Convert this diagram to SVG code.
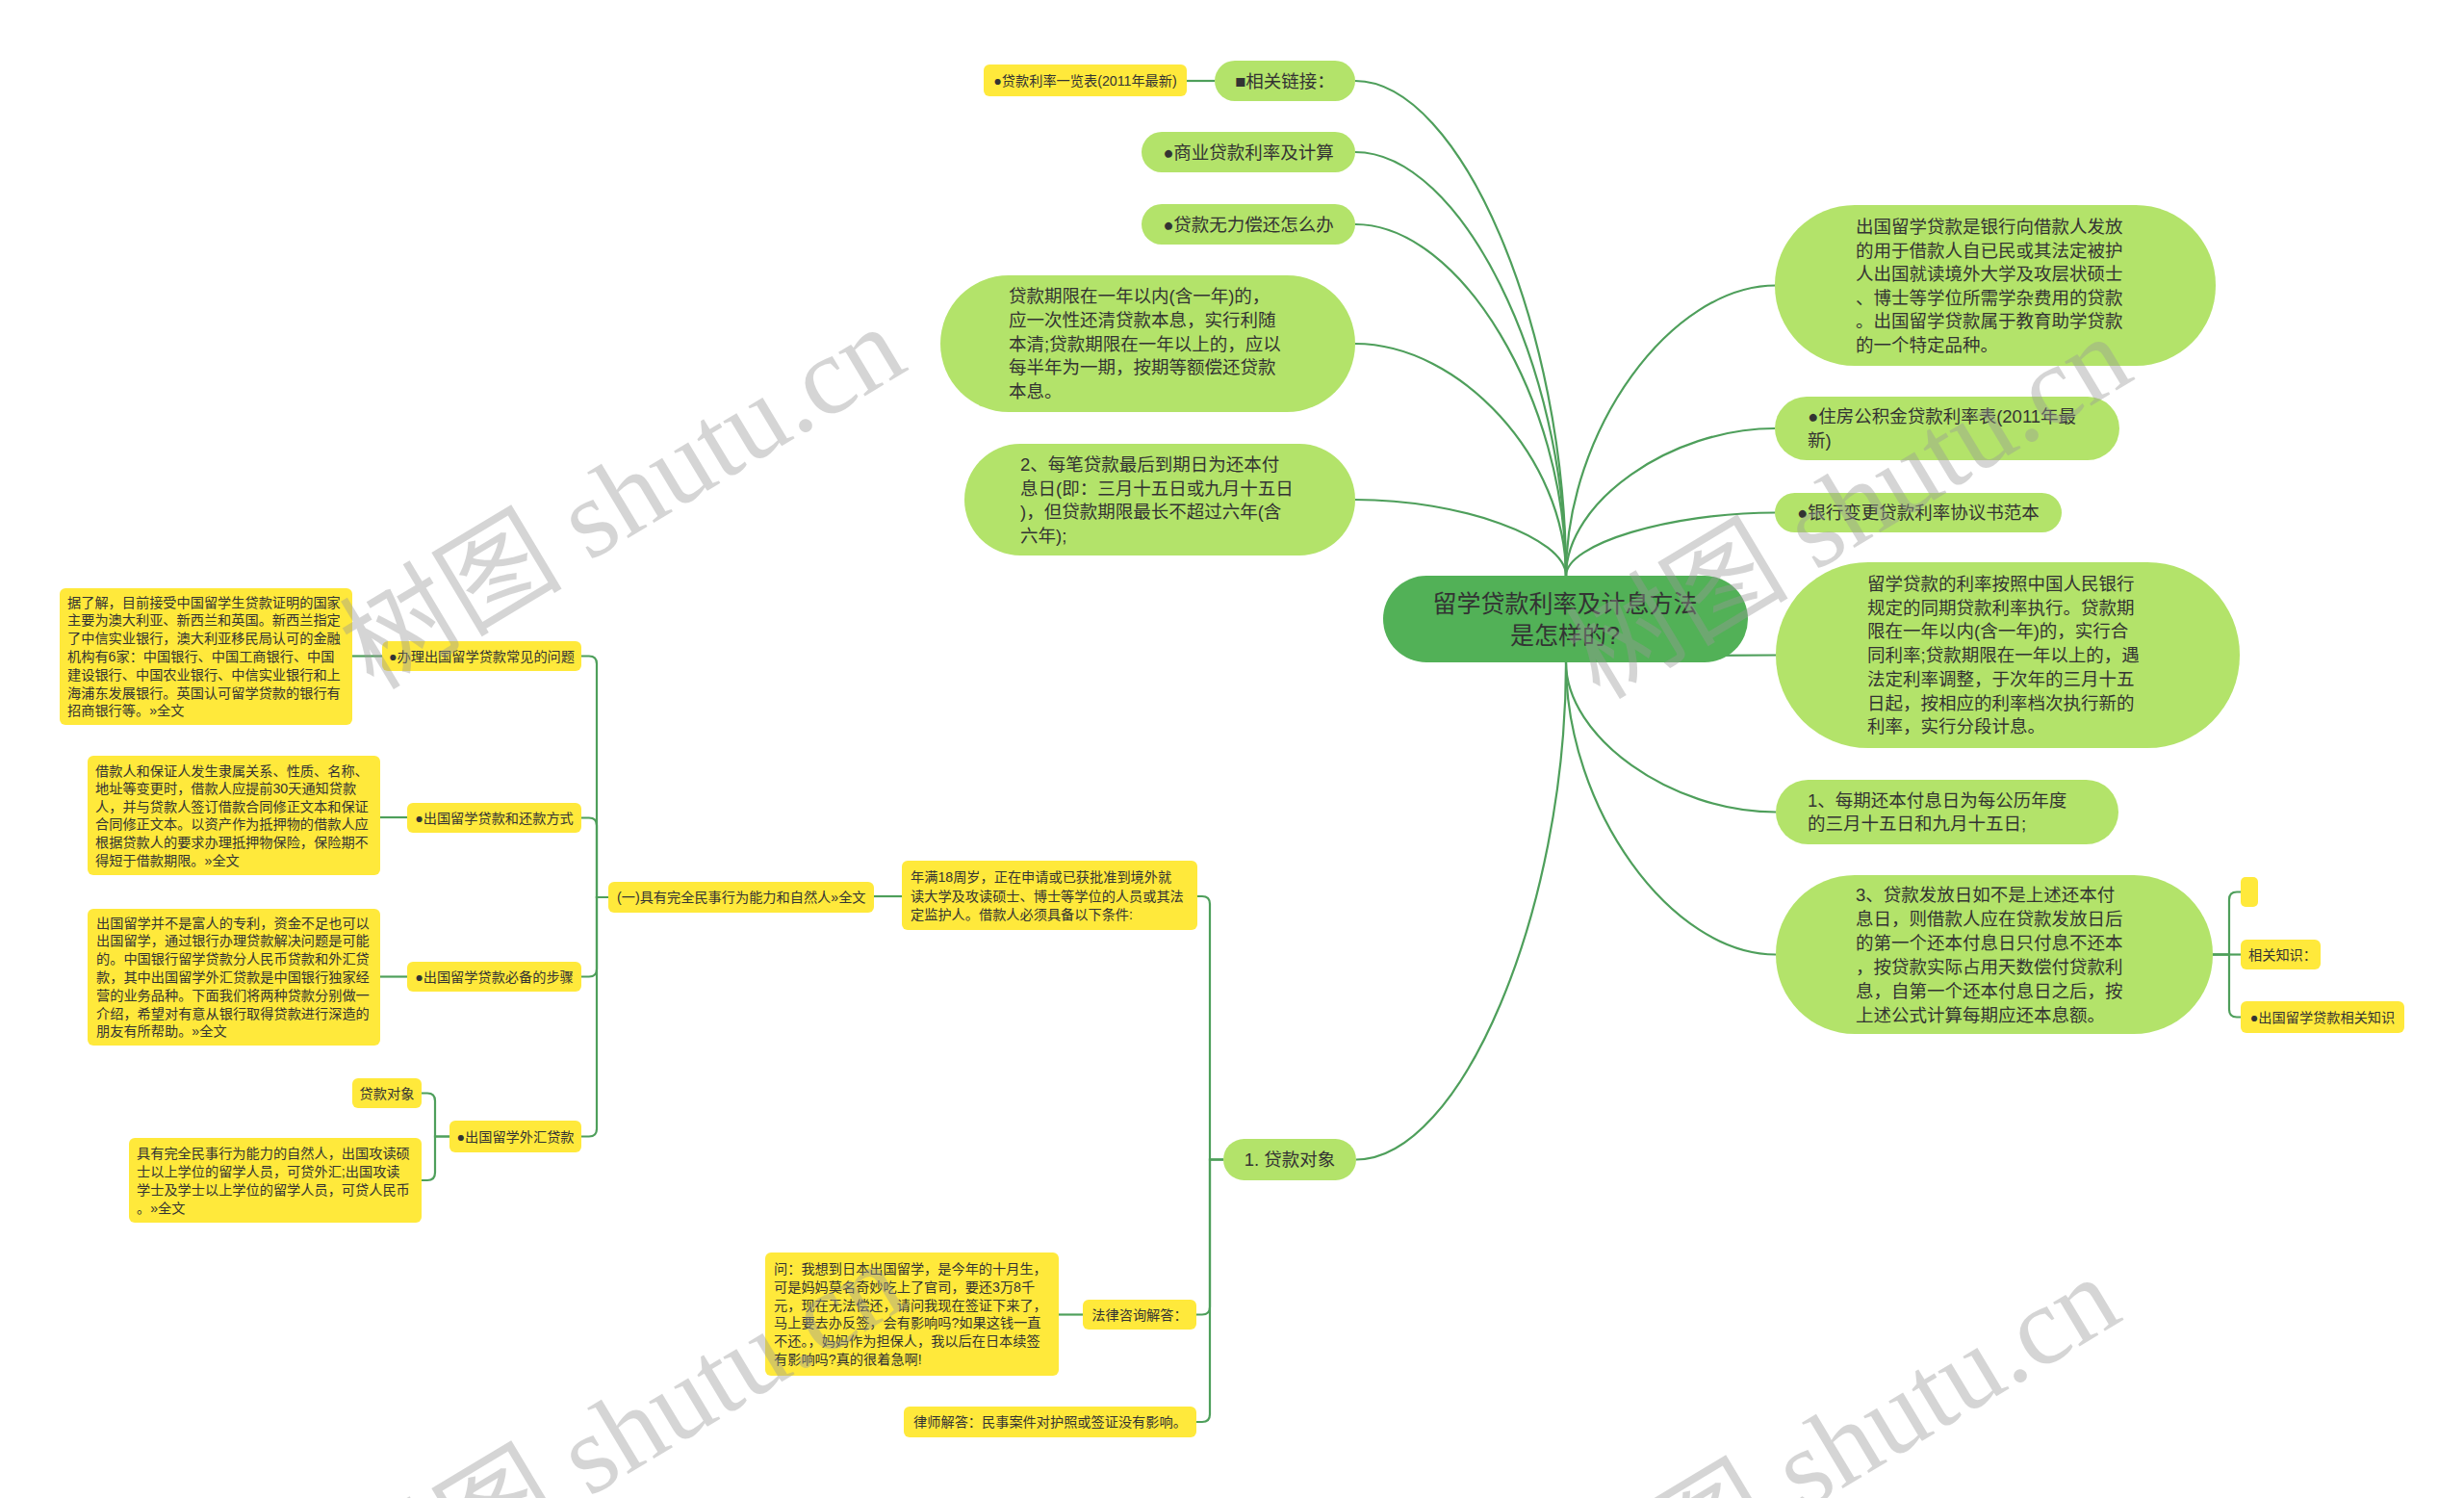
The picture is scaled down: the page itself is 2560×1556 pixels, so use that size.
<svg xmlns="http://www.w3.org/2000/svg" width="2560" height="1556" viewBox="0 0 2560 1556">
<style>
.c{fill:none;stroke:#4e9f5b;stroke-width:2.2}
.g{fill:#b3e36a}
.y{fill:#ffe93b}
.m{fill:#52b157}
.t{font-family:"Liberation Sans","Noto Sans CJK SC",sans-serif;fill:#333}
.b{font-size:18.5px}
.s{font-size:14.2px}
.mid{text-anchor:middle}
.wm{font-family:"Liberation Serif","Noto Sans CJK SC",serif;font-size:116px;fill:#999;opacity:0.4}
</style>
<rect width="2560" height="1556" fill="#ffffff"/>
<g id="connectors">
<path class="c" d="M1408,84 C1517.5,84 1627,341 1627,598"/>
<path class="c" d="M1408,158 C1517.5,158 1627,378 1627,598"/>
<path class="c" d="M1408,233 C1517.5,233 1627,415.5 1627,598"/>
<path class="c" d="M1408,357 C1517.5,357 1627,477.5 1627,598"/>
<path class="c" d="M1408,519 C1517.5,519 1627,558.5 1627,598"/>
<path class="c" d="M1233,84 H1262"/>
<path class="c" d="M1845,296.5 C1736,296.5 1627,447 1627,598"/>
<path class="c" d="M1844,445 C1735.5,445 1627,521.5 1627,598"/>
<path class="c" d="M1844,532.5 C1735.5,532.5 1627,565 1627,598"/>
<path class="c" d="M1845,680.5 C1736,680.5 1627,684 1627,688"/>
<path class="c" d="M1845,843.5 C1736,843.5 1627,765.75 1627,688"/>
<path class="c" d="M1845,991.5 C1736,991.5 1627,839.75 1627,688"/>
<path class="c" d="M1409,1204.5 C1518,1204.5 1627,946 1627,688"/>
<path class="c" d="M2299,991.5 H2316 V934.5 Q2316,926.5 2324,926.5 H2328"/>
<path class="c" d="M2299,991.5 H2328"/>
<path class="c" d="M2299,991.5 H2316 V1048.5 Q2316,1056.5 2324,1056.5 H2328"/>
<path class="c" d="M1271,1204.5 H1257 V939 Q1257,931 1249,931 H1244"/>
<path class="c" d="M1271,1204.5 H1257 V1357.5 Q1257,1365.5 1249,1365.5 H1243"/>
<path class="c" d="M1271,1204.5 H1257 V1469 Q1257,1477 1249,1477 H1243"/>
<path class="c" d="M937,931 H908"/>
<path class="c" d="M632,932 H620 V689.5 Q620,681.5 612,681.5 H604"/>
<path class="c" d="M632,932 H620 V857.5 Q620,849.5 612,849.5 H604"/>
<path class="c" d="M632,932 H620 V1006.5 Q620,1014.5 612,1014.5 H604"/>
<path class="c" d="M632,932 H620 V1172.5 Q620,1180.5 612,1180.5 H604"/>
<path class="c" d="M397,681.5 H366"/>
<path class="c" d="M423,849 H395"/>
<path class="c" d="M423,1014.5 H395"/>
<path class="c" d="M467,1180.5 H452 V1143.5 Q452,1135.5 444,1135.5 H438"/>
<path class="c" d="M467,1180.5 H452 V1218 Q452,1226 444,1226 H438"/>
<path class="c" d="M1125,1365.5 H1100"/>
</g>
<g id="center">
<rect class="m" x="1437" y="598" width="379" height="90" rx="45"/>
<text class="t mid" font-size="25" x="1626" y="636">留学贷款利率及计息方法</text>
<text class="t mid" font-size="25" x="1626" y="669">是怎样的?</text>
</g>
<g id="n-links">
<rect class="g" x="1262" y="63" width="146" height="42" rx="21"/>
<text class="t b mid" x="1335" y="90.5">■相关链接：</text>
</g>
<g id="n-rate-table">
<rect class="y" x="1022" y="67" width="211" height="33" rx="6"/>
<text class="t s mid" x="1127.5" y="89">●贷款利率一览表(2011年最新)</text>
</g>
<g id="n-commercial">
<rect class="g" x="1186" y="137" width="222" height="42" rx="21"/>
<text class="t b mid" x="1297" y="164.5">●商业贷款利率及计算</text>
</g>
<g id="n-unable">
<rect class="g" x="1186" y="212" width="222" height="42" rx="21"/>
<text class="t b mid" x="1297" y="239.5">●贷款无力偿还怎么办</text>
</g>
<g id="n-term">
<rect class="g" x="977" y="286" width="431" height="142" rx="71"/>
<text class="t b"><tspan x="1048" y="314">贷款期限在一年以内(含一年)的，</tspan><tspan x="1048" y="338.8">应一次性还清贷款本息，实行利随</tspan><tspan x="1048" y="363.6">本清;贷款期限在一年以上的，应以</tspan><tspan x="1048" y="388.4">每半年为一期，按期等额偿还贷款</tspan><tspan x="1048" y="413.2">本息。</tspan></text>
</g>
<g id="n-due">
<rect class="g" x="1002" y="461" width="406" height="116" rx="58"/>
<text class="t b"><tspan x="1060" y="489">2、每笔贷款最后到期日为还本付</tspan><tspan x="1060" y="513.6">息日(即：三月十五日或九月十五日</tspan><tspan x="1060" y="538.2">)，但贷款期限最长不超过六年(含</tspan><tspan x="1060" y="562.8">六年);</tspan></text>
</g>
<g id="n-definition">
<rect class="g" x="1844" y="213" width="458" height="167" rx="83"/>
<text class="t b"><tspan x="1928" y="242">出国留学贷款是银行向借款人发放</tspan><tspan x="1928" y="266.5">的用于借款人自已民或其法定被护</tspan><tspan x="1928" y="291">人出国就读境外大学及攻层状硕士</tspan><tspan x="1928" y="315.5">、博士等学位所需学杂费用的贷款</tspan><tspan x="1928" y="340">。出国留学贷款属于教育助学贷款</tspan><tspan x="1928" y="364.5">的一个特定品种。</tspan></text>
</g>
<g id="n-housing">
<rect class="g" x="1844" y="412" width="358" height="66" rx="33"/>
<text class="t b"><tspan x="1878" y="439">●住房公积金贷款利率表(2011年最</tspan><tspan x="1878" y="464">新)</tspan></text>
</g>
<g id="n-bank-change">
<rect class="g" x="1844" y="512" width="298" height="41" rx="20.5"/>
<text class="t b" x="1867" y="539">●银行变更贷款利率协议书范本</text>
</g>
<g id="n-interest">
<rect class="g" x="1845" y="584" width="482" height="193" rx="96"/>
<text class="t b"><tspan x="1940" y="613">留学贷款的利率按照中国人民银行</tspan><tspan x="1940" y="637.7">规定的同期贷款利率执行。贷款期</tspan><tspan x="1940" y="662.4">限在一年以内(含一年)的，实行合</tspan><tspan x="1940" y="687.1">同利率;贷款期限在一年以上的，遇</tspan><tspan x="1940" y="711.8">法定利率调整，于次年的三月十五</tspan><tspan x="1940" y="736.5">日起，按相应的利率档次执行新的</tspan><tspan x="1940" y="761.2">利率，实行分段计息。</tspan></text>
</g>
<g id="n-date1">
<rect class="g" x="1845" y="810" width="356" height="67" rx="33.5"/>
<text class="t b"><tspan x="1878" y="837.5">1、每期还本付息日为每公历年度</tspan><tspan x="1878" y="862">的三月十五日和九月十五日;</tspan></text>
</g>
<g id="n-date3">
<rect class="g" x="1845" y="909" width="454" height="165" rx="82"/>
<text class="t b"><tspan x="1928" y="935.5">3、贷款发放日如不是上述还本付</tspan><tspan x="1928" y="960.5">息日，则借款人应在贷款发放日后</tspan><tspan x="1928" y="985.5">的第一个还本付息日只付息不还本</tspan><tspan x="1928" y="1010.5">，按贷款实际占用天数偿付贷款利</tspan><tspan x="1928" y="1035.5">息，自第一个还本付息日之后，按</tspan><tspan x="1928" y="1060.5">上述公式计算每期应还本息额。</tspan></text>
</g>
<g id="n-empty">
<rect class="y" x="2328" y="911" width="18" height="31" rx="5"/>
</g>
<g id="n-related">
<rect class="y" x="2328" y="976" width="83" height="31" rx="6"/>
<text class="t s" x="2336" y="996.5">相关知识：</text>
</g>
<g id="n-related-link">
<rect class="y" x="2328" y="1040" width="170" height="33" rx="6"/>
<text class="t s mid" x="2413" y="1061.5">●出国留学贷款相关知识</text>
</g>
<g id="n-target">
<rect class="g" x="1271" y="1183" width="138" height="43" rx="21.5"/>
<text class="t b mid" x="1340" y="1211">1. 贷款对象</text>
</g>
<g id="n-age">
<rect class="y" x="937" y="894" width="307" height="72" rx="6"/>
<text class="t s"><tspan x="946" y="916">年满18周岁，正在申请或已获批准到境外就</tspan><tspan x="946" y="935.5">读大学及攻读硕士、博士等学位的人员或其法</tspan><tspan x="946" y="955">定监护人。借款人必须具备以下条件:</tspan></text>
</g>
<g id="n-capacity">
<rect class="y" x="632" y="916" width="276" height="32" rx="6"/>
<text class="t s" x="641" y="937">(一)具有完全民事行为能力和自然人»全文</text>
</g>
<g id="n-faq">
<rect class="y" x="397" y="666" width="207" height="31" rx="6"/>
<text class="t s mid" x="500.5" y="686.5">●办理出国留学贷款常见的问题</text>
</g>
<g id="n-faq-detail">
<rect class="y" x="62" y="611" width="304" height="142" rx="6"/>
<text class="t s"><tspan x="70" y="630.5">据了解，目前接受中国留学生贷款证明的国家</tspan><tspan x="70" y="649.3">主要为澳大利亚、新西兰和英国。新西兰指定</tspan><tspan x="70" y="668.1">了中信实业银行，澳大利亚移民局认可的金融</tspan><tspan x="70" y="686.9">机构有6家：中国银行、中国工商银行、中国</tspan><tspan x="70" y="705.7">建设银行、中国农业银行、中信实业银行和上</tspan><tspan x="70" y="724.5">海浦东发展银行。英国认可留学贷款的银行有</tspan><tspan x="70" y="743.3">招商银行等。»全文</tspan></text>
</g>
<g id="n-repay">
<rect class="y" x="423" y="834" width="181" height="31" rx="6"/>
<text class="t s mid" x="513.5" y="854.5">●出国留学贷款和还款方式</text>
</g>
<g id="n-repay-detail">
<rect class="y" x="91" y="785" width="304" height="124" rx="6"/>
<text class="t s"><tspan x="99" y="805.5">借款人和保证人发生隶属关系、性质、名称、</tspan><tspan x="99" y="824.1">地址等变更时，借款人应提前30天通知贷款</tspan><tspan x="99" y="842.7">人，并与贷款人签订借款合同修正文本和保证</tspan><tspan x="99" y="861.3">合同修正文本。以资产作为抵押物的借款人应</tspan><tspan x="99" y="879.9">根据贷款人的要求办理抵押物保险，保险期不</tspan><tspan x="99" y="898.5">得短于借款期限。»全文</tspan></text>
</g>
<g id="n-steps">
<rect class="y" x="423" y="999" width="181" height="31" rx="6"/>
<text class="t s mid" x="513.5" y="1019.5">●出国留学贷款必备的步骤</text>
</g>
<g id="n-steps-detail">
<rect class="y" x="91" y="944" width="304" height="142" rx="6"/>
<text class="t s"><tspan x="100" y="963.5">出国留学并不是富人的专利，资金不足也可以</tspan><tspan x="100" y="982.3">出国留学，通过银行办理贷款解决问题是可能</tspan><tspan x="100" y="1001.1">的。中国银行留学贷款分人民币贷款和外汇贷</tspan><tspan x="100" y="1019.9">款，其中出国留学外汇贷款是中国银行独家经</tspan><tspan x="100" y="1038.7">营的业务品种。下面我们将两种贷款分别做一</tspan><tspan x="100" y="1057.5">介绍，希望对有意从银行取得贷款进行深造的</tspan><tspan x="100" y="1076.3">朋友有所帮助。»全文</tspan></text>
</g>
<g id="n-forex">
<rect class="y" x="467" y="1164" width="137" height="33" rx="6"/>
<text class="t s mid" x="535.5" y="1185.5">●出国留学外汇贷款</text>
</g>
<g id="n-forex-target">
<rect class="y" x="366" y="1120" width="72" height="31" rx="6"/>
<text class="t s mid" x="402" y="1140.5">贷款对象</text>
</g>
<g id="n-forex-detail">
<rect class="y" x="134" y="1182" width="304" height="88" rx="6"/>
<text class="t s"><tspan x="142" y="1202.5">具有完全民事行为能力的自然人，出国攻读硕</tspan><tspan x="142" y="1221.5">士以上学位的留学人员，可贷外汇;出国攻读</tspan><tspan x="142" y="1240.5">学士及学士以上学位的留学人员，可贷人民币</tspan><tspan x="142" y="1259.5">。»全文</tspan></text>
</g>
<g id="n-legal">
<rect class="y" x="1125" y="1350" width="118" height="31" rx="6"/>
<text class="t s mid" x="1184" y="1370.5">法律咨询解答：</text>
</g>
<g id="n-question">
<rect class="y" x="795" y="1301" width="305" height="128" rx="6"/>
<text class="t s"><tspan x="804" y="1323">问：我想到日本出国留学，是今年的十月生，</tspan><tspan x="804" y="1341.8">可是妈妈莫名奇妙吃上了官司，要还3万8千</tspan><tspan x="804" y="1360.6">元，现在无法偿还，请问我现在签证下来了，</tspan><tspan x="804" y="1379.4">马上要去办反签，会有影响吗?如果这钱一直</tspan><tspan x="804" y="1398.2">不还。，妈妈作为担保人，我以后在日本续签</tspan><tspan x="804" y="1417">有影响吗?真的很着急啊!</tspan></text>
</g>
<g id="n-lawyer">
<rect class="y" x="939" y="1461" width="304" height="32" rx="6"/>
<text class="t s mid" x="1091" y="1482">律师解答：民事案件对护照或签证没有影响。</text>
</g>
<g id="watermark">
<text class="wm" transform="translate(388,718) rotate(-31)">树图 shutu.cn</text>
<text class="wm" transform="translate(1662,728) rotate(-31)">树图 shutu.cn</text>
<text class="wm" transform="translate(388,1690) rotate(-31)">树图 shutu.cn</text>
<text class="wm" transform="translate(1650,1705) rotate(-31)">树图 shutu.cn</text>
</g>
</svg>
